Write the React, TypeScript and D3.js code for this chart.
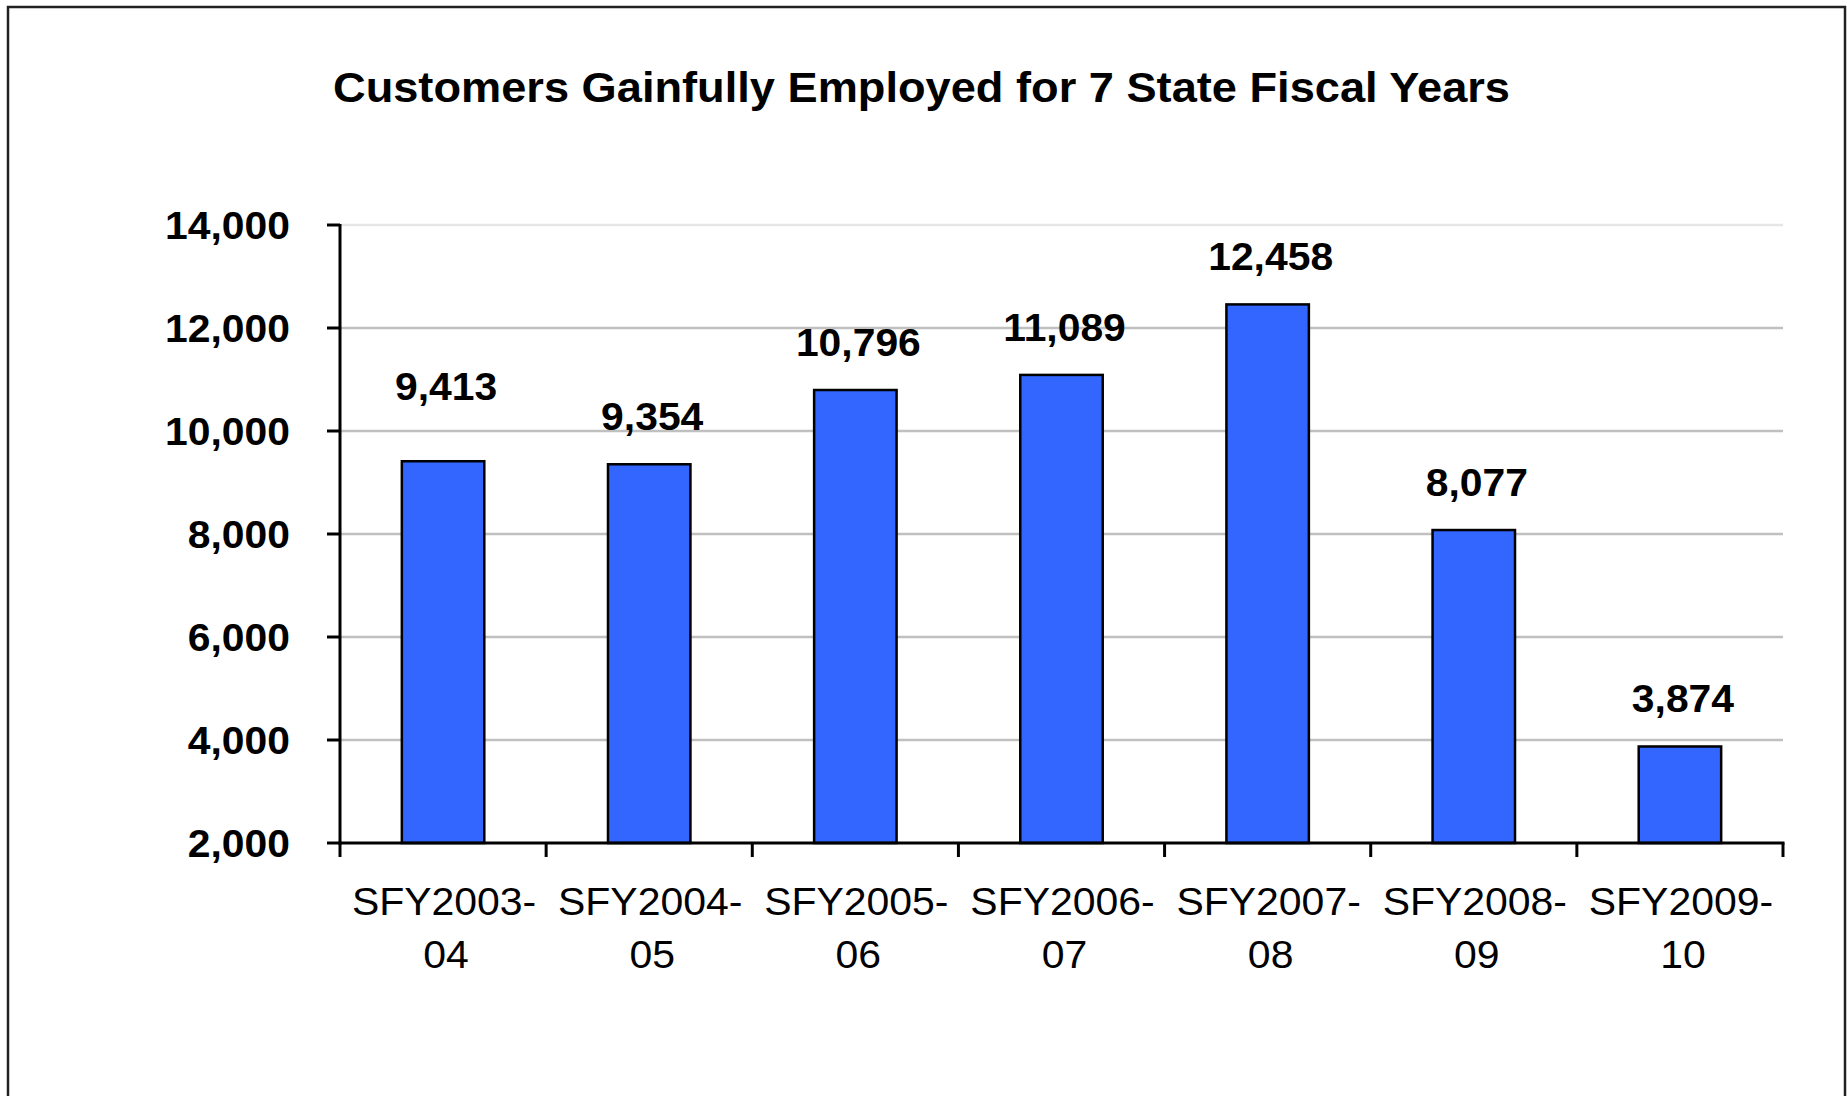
import React from "react";
import * as d3 from "d3";

const title = "Customers Gainfully Employed for 7 State Fiscal Years";
const categoriesLine1 = ["SFY2003-", "SFY2004-", "SFY2005-", "SFY2006-", "SFY2007-", "SFY2008-", "SFY2009-"];
const categoriesLine2 = ["04", "05", "06", "07", "08", "09", "10"];
const values = [9413, 9354, 10796, 11089, 12458, 8077, 3874];
const yTicks = [2000, 4000, 6000, 8000, 10000, 12000, 14000];

const W = 1847;
const H = 1096;
const FONT = "'Liberation Sans', Arial, Helvetica, sans-serif";

export default function App() {
  const keys = categoriesLine1.map((_, i) => String(i));
  const x = d3.scaleBand<string>().domain(keys).range([340, 1783]).paddingInner(0.6).paddingOuter(0.3);
  const y = d3.scaleLinear().domain([2000, 14000]).range([843, 225]);
  const fmt = d3.format(",");
  const step = x.step();
  const boundaries = d3.range(keys.length + 1).map((i) => 340 + i * step);

  return (
    <svg width={W} height={H} style={{ position: "absolute", left: 0, top: 0, background: "#fff" }}>
      <rect x={0} y={0} width={W} height={H} fill="#fff" />
      <rect x={8} y={7} width={1837} height={1200} fill="none" stroke="#222" strokeWidth={2.5} />
      <text
        x={921.5}
        y={101.5}
        textAnchor="middle"
        fontFamily={FONT}
        fontWeight="bold"
        fontSize={43}
        textLength={1177}
        lengthAdjust="spacingAndGlyphs"
      >
        {title}
      </text>

      {/* gridlines */}
      {yTicks.slice(1).map((t) => (
        <line
          key={"g" + t}
          x1={340}
          x2={1783}
          y1={y(t)}
          y2={y(t)}
          stroke={t === 14000 ? "#e6e6e6" : "#c0c0c0"}
          strokeWidth={2.5}
        />
      ))}

      {/* bars */}
      {values.map((v, i) => (
        <rect
          key={"b" + i}
          x={x(keys[i])}
          y={y(v)}
          width={x.bandwidth()}
          height={y(2000) - y(v)}
          fill="#3366FF"
          stroke="#000"
          strokeWidth={2.5}
        />
      ))}

      {/* y axis */}
      <line x1={340} x2={340} y1={224} y2={844.5} stroke="#000" strokeWidth={3} />
      {yTicks.map((t) => (
        <g key={"yt" + t}>
          <line x1={327} x2={340} y1={y(t)} y2={y(t)} stroke="#000" strokeWidth={3} />
          <text
            transform={`translate(290,${y(t) + 13.5}) scale(1.075,1)`}
            textAnchor="end"
            fontFamily={FONT}
            fontWeight="bold"
            fontSize={38}
          >
            {fmt(t)}
          </text>
        </g>
      ))}

      {/* x axis */}
      <line x1={338.5} x2={1784.5} y1={843} y2={843} stroke="#000" strokeWidth={3} />
      {boundaries.map((bx, i) => (
        <line key={"xt" + i} x1={bx} x2={bx} y1={843} y2={857} stroke="#000" strokeWidth={3} />
      ))}
      {keys.map((k, i) => {
        const cx = (x(k) as number) + x.bandwidth() / 2;
        return (
          <g key={"xl" + i}>
            <text
              transform={`translate(${cx + 1},915) scale(1.05,1)`}
              textAnchor="middle"
              fontFamily={FONT}
              fontSize={39}
            >
              {categoriesLine1[i]}
            </text>
            <text
              transform={`translate(${cx + 3},968) scale(1.05,1)`}
              textAnchor="middle"
              fontFamily={FONT}
              fontSize={39}
            >
              {categoriesLine2[i]}
            </text>
          </g>
        );
      })}

      {/* data labels */}
      {values.map((v, i) => {
        const cx = (x(keys[i]) as number) + x.bandwidth() / 2;
        const lift = i === 0 ? 61 : 34;
        return (
          <text
            key={"dl" + i}
            transform={`translate(${cx + 3},${y(v) - lift}) scale(1.075,1)`}
            textAnchor="middle"
            fontFamily={FONT}
            fontWeight="bold"
            fontSize={38}
          >
            {fmt(v)}
          </text>
        );
      })}
    </svg>
  );
}
